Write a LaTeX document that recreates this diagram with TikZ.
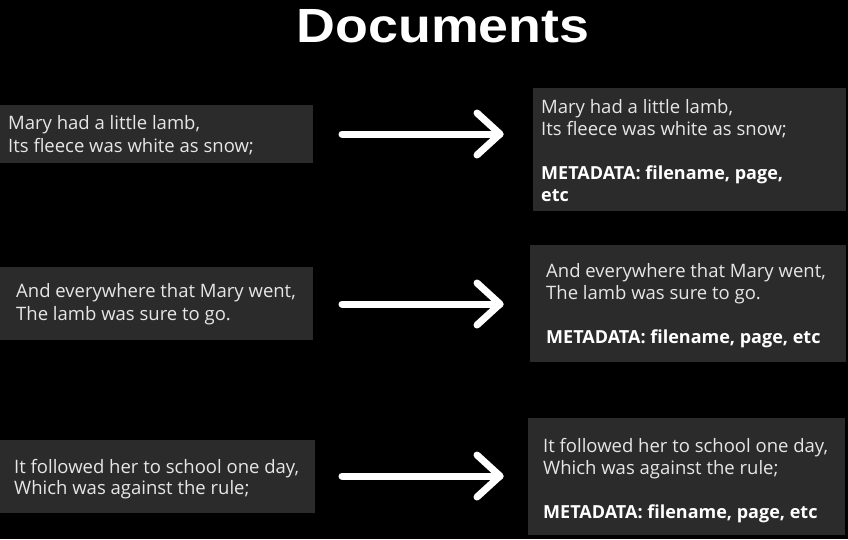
\documentclass[tikz,border=0pt]{standalone}
\usepackage{fontspec}
\setmainfont{Open Sans}
\newfontfamily\titlefont{Liberation Sans}
\usetikzlibrary{calc}

\definecolor{pagebg}{HTML}{000000}
\definecolor{cardbg}{HTML}{2B2B2B}
\definecolor{cardtext}{HTML}{E6E6E6}

% stack of lines whose reference point is the first baseline
\newcommand\linestack[2][22pt]{\vtop{\baselineskip=#1 #2}}
\newcommand\meta[1]{\hbox{\color{white}\bfseries\fontsize{18}{22}\selectfont #1}}

\tikzset{
  card/.style={fill=cardbg, draw=none, inner sep=0pt},
  versetext/.style={anchor=base west, inner sep=0pt, text=cardtext,
    font=\fontsize{18.5}{22}\selectfont},
  flow/.style={draw=white, line width=7pt, line cap=round, line join=round},
}

\begin{document}
\begin{tikzpicture}[x=1pt, y=-1pt]
  \fill[pagebg] (0,0) rectangle (848,539);
  \useasboundingbox (0,0) rectangle (848,539);

  % heading
  \node[anchor=base, inner sep=0pt, text=white] (title) at (443,42)
    {\titlefont\bfseries\fontsize{48}{48}\selectfont\scalebox{1.12}[1]{Documents}};

  % source chunks (left column)
  \node[card, minimum width=313pt, minimum height=58pt, anchor=north west] (l1) at (0,105) {};
  \node[card, minimum width=313pt, minimum height=73pt, anchor=north west] (l2) at (0,267) {};
  \node[card, minimum width=315pt, minimum height=73pt, anchor=north west] (l3) at (0,440) {};

  \node[versetext] (l1t) at (8,129)
    {\linestack[23.5pt]{\hbox{Mary had a little lamb,}\hbox{Its fleece was white as snow;}}};
  \node[versetext] (l2t) at (16,297)
    {\linestack[23pt]{\hbox{And everywhere that Mary went,}\hbox{The lamb was sure to go.}}};
  \node[versetext] (l3t) at (14,473)
    {\linestack[21.5pt]{\hbox{It followed her to school one day,}\hbox{Which was against the rule;}}};

  % chunks with metadata (right column)
  \node[card, minimum width=313pt, minimum height=123pt, anchor=north west] (r1) at (533,88) {};
  \node[card, minimum width=316pt, minimum height=117pt, anchor=north west] (r2) at (530,245) {};
  \node[card, minimum width=317pt, minimum height=117pt, anchor=north west] (r3) at (528,418) {};

  \node[versetext] (r1t) at (541,113)
    {\linestack{\hbox{Mary had a little lamb,}\hbox{Its fleece was white as snow;}\hbox{}
      \meta{METADATA: filename, page,}\meta{etc}}};
  \node[versetext] (r2t) at (546,277)
    {\linestack{\hbox{And everywhere that Mary went,}\hbox{The lamb was sure to go.}\hbox{}
      \meta{METADATA: filename, page, etc}}};
  \node[versetext] (r3t) at (543,452)
    {\linestack{\hbox{It followed her to school one day,}\hbox{Which was against the rule;}\hbox{}
      \meta{METADATA: filename, page, etc}}};

  % arrows between the columns
  \coordinate (a1s) at (342,134); \coordinate (a1e) at (500,134);
  \coordinate (a2s) at (342,304); \coordinate (a2e) at (500,304);
  \coordinate (a3s) at (342,476); \coordinate (a3e) at (500,476);
  \foreach \s/\e in {a1s/a1e, a2s/a2e, a3s/a3e}{
    \draw[flow] (\s) -- (\e);
    \draw[flow] ($(\e)+(-23,-21)$) -- (\e) -- ($(\e)+(-23,21)$);
  }
\end{tikzpicture}
\end{document}
